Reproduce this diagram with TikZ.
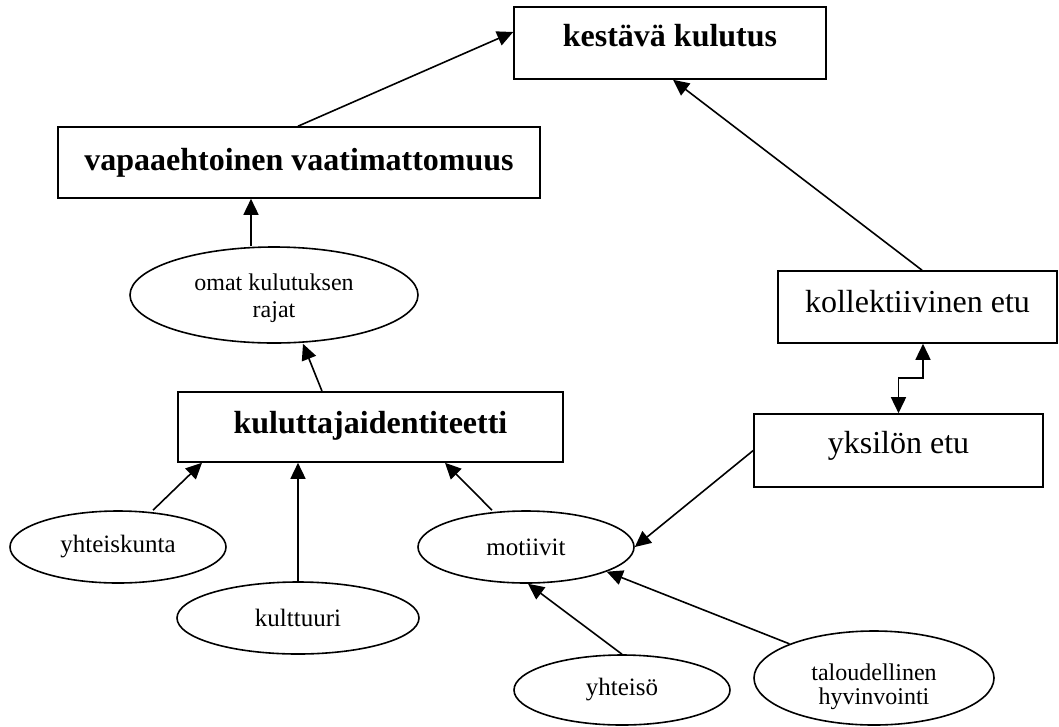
\documentclass[tikz,border=0pt]{standalone}
\usepackage{fontspec}
\setmainfont{Liberation Serif}
\usetikzlibrary{arrows.meta,shapes.geometric}
\begin{document}
\begin{tikzpicture}[x=1pt,y=1pt,
 box/.style={draw,line width=1.6pt,rectangle,inner sep=0pt,align=center},
 bigb/.style={font=\fontsize{32}{38}\selectfont\bfseries},
 bigr/.style={font=\fontsize{32}{38}\selectfont},
 oval/.style={draw,line width=1.6pt,ellipse,inner sep=0pt,align=center,font=\fontsize{25}{27}\selectfont},
 arr/.style={line width=1.6pt,-{Triangle[length=16pt,width=15pt]}},
 dblarr/.style={line width=1.6pt,{Triangle[length=16pt,width=15pt]}-{Triangle[length=16pt,width=15pt]}},
]
\useasboundingbox (0,0) rectangle (1059,-726);
\node[box,bigb,minimum width=312,minimum height=72,text height=20,text depth=14] (kest) at (670,-43) {kestävä kulutus};
\node[box,bigb,minimum width=482,minimum height=71,text height=20,text depth=5] (vapaa) at (299,-162.5) {vapaaehtoinen vaatimattomuus};
\node[box,bigb,minimum width=385,minimum height=70,text height=20,text depth=8] (kulu) at (370.5,-427) {kuluttajaidentiteetti};
\node[box,bigr,minimum width=279,minimum height=72,text height=20,text depth=10] (koll) at (917.5,-307) {kollektiivinen etu};
\node[box,bigr,minimum width=289,minimum height=73,text height=20,text depth=15] (yks) at (898.5,-450.5) {yksilön etu};
\node[oval,font=\fontsize{24}{27}\selectfont,minimum width=288,minimum height=96,text height=30,text depth=10] (omat) at (274,-295) {\begin{tabular}{@{}c@{}}omat kulutuksen\\rajat\end{tabular}};
\node[oval,minimum width=216,minimum height=72] (yhtk) at (118,-547) {yhteiskunta};
\node[oval,minimum width=242,minimum height=72] (kult) at (298,-618) {kulttuuri};
\node[oval,minimum width=216,minimum height=72] (mot) at (526,-547) {motiivit};
\node[oval,minimum width=216,minimum height=70] (yhs) at (622,-690) {yhteisö};
\node[oval,font=\fontsize{24}{23}\selectfont,minimum width=240,minimum height=94,text height=40,text depth=8] (tal) at (874,-678) {\begin{tabular}{@{}c@{}}taloudellinen\\hyvinvointi\end{tabular}};
\draw[arr] ([xshift=-1]vapaa.north) -- ([yshift=11]kest.west);
\draw[arr] ([xshift=4.5]koll.north) -- ([xshift=3]kest.south);
\draw[arr] ([xshift=-23]omat.north) -- ([xshift=-48]vapaa.south);
\draw[arr] ([xshift=-48.5]kulu.north) -- ([xshift=29]omat.south);
\draw[arr] ([xshift=35]yhtk.north) -- ([xshift=-168.5]kulu.south);
\draw[arr] (kult.north) -- ([xshift=-72.5]kulu.south);
\draw[arr] ([xshift=-34]mot.north) -- ([xshift=74.5]kulu.south);
\draw[arr] (yks.west) -- (mot.east);
\draw[arr] (yhs.north) -- ([xshift=2]mot.south);
\draw[arr] (tal.158) -- (mot.-17);
\draw[dblarr] (yks.north) -- ++(0,35) -| ([xshift=5.5]koll.south);
\end{tikzpicture}
\end{document}
